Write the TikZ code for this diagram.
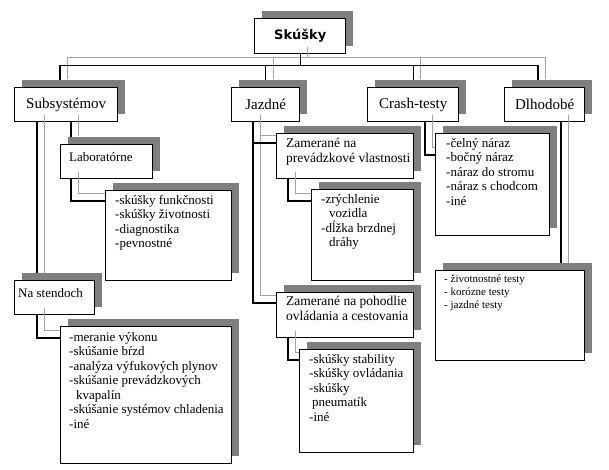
\documentclass[tikz,border=0pt]{standalone}
\usepackage{fontspec}
\setmainfont{Liberation Serif}
\newfontfamily\headfont{DejaVu Sans}
\usetikzlibrary{shadows}
\definecolor{boxgray}{HTML}{7F7F7F}
\definecolor{linegray}{HTML}{A3A3A3}
\pgfdeclarelayer{lev0}
\pgfdeclarelayer{con0}
\pgfdeclarelayer{lev1}
\pgfdeclarelayer{con1}
\pgfdeclarelayer{lev2}
\pgfdeclarelayer{con2}
\pgfdeclarelayer{lev3}
\pgfsetlayers{lev0,con0,lev1,con1,lev2,con2,lev3,main}
\begin{document}
\begin{tikzpicture}[x=1pt,y=-1pt,
  box/.style={draw,line width=1.4pt,fill=white,inner sep=0pt,anchor=north west,
    drop shadow={shadow xshift=7.5pt,shadow yshift=7.5pt,fill=boxgray,opacity=1}},
  link/.style={line width=1.3pt},
  ghost/.style={draw=linegray,line width=1pt},
  offs/.style={shift={(7.5,-7.5)}},
  head/.style={font=\fontsize{15}{17}\selectfont},
  listtext/.style={anchor=north west,align=left,inner sep=0pt,font=\fontsize{13}{14.5}\selectfont,
    execute at begin node={\rule{0pt}{11pt}}}]
\begin{pgfonlayer}{lev0}
\fill[white] (0,0) rectangle (609,470);
\useasboundingbox (0,0) rectangle (609,470);
\node[box,minimum width=91,minimum height=35,font=\headfont\bfseries\fontsize{13}{15}\selectfont] (skusky) at (254,18) {Skúšky};
\end{pgfonlayer}
\begin{pgfonlayer}{lev1}
\node[box,head,minimum width=103,minimum height=34] (sub) at (14,87) {Subsystémov};
\node[box,head,minimum width=68,minimum height=34] (jaz) at (231,87) {Jazdné};
\node[box,head,minimum width=91,minimum height=34] (cra) at (367,87) {Crash-testy};
\node[box,head,minimum width=80,minimum height=34] (dlh) at (504,87) {Dlhodobé};
\end{pgfonlayer}
\begin{pgfonlayer}{lev2}
\node[box,minimum width=92,minimum height=34] (lab) at (60,144) {};
\node[box,minimum width=80,minimum height=34] (nas) at (14,280) {};
\node[box,minimum width=137,minimum height=45] (zam1) at (276,133) {};
\node[box,minimum width=137,minimum height=45] (zam2) at (276,292) {};
\node[box,minimum width=114,minimum height=102] (crl) at (435,133) {};
\node[box,minimum width=149,minimum height=90] (dll) at (435,270) {};
\end{pgfonlayer}
\begin{pgfonlayer}{lev3}
\node[box,minimum width=126,minimum height=90] (lst1) at (105,190) {};
\node[box,minimum width=171,minimum height=137] (lst2) at (60,326) {};
\node[box,minimum width=102,minimum height=91] (lst3) at (311,189) {};
\node[box,minimum width=114,minimum height=103] (lst4) at (299,349) {};
\end{pgfonlayer}
\begin{pgfonlayer}{con0}
\draw[ghost] ([offs]skusky.south) -- ++(0,11) -| ([offs,xshift=46]sub.north west);
\draw[ghost] ([offs]skusky.south) -- ++(0,11) -| ([offs]jaz.north);
\draw[ghost] ([offs]skusky.south) -- ++(0,11) -| ([offs]cra.north);
\draw[ghost] ([offs]skusky.south) -- ++(0,11) -| ([offs,xshift=34]dlh.north west);
\draw[link] (skusky.south) -- ++(0,11) -| ([xshift=46]sub.north west);
\draw[link] (skusky.south) -- ++(0,11) -| (jaz.north);
\draw[link] (skusky.south) -- ++(0,11) -| (cra.north);
\draw[link] (skusky.south) -- ++(0,11) -| ([xshift=34]dlh.north west);
\end{pgfonlayer}
\begin{pgfonlayer}{con1}
\draw[ghost] ([offs,xshift=23]sub.south west) -- ([offs,xshift=23]nas.north west);
\draw[ghost] ([offs,xshift=57]sub.south west) -- ([offs,xshift=11]lab.north west);
\draw[ghost] ([offs,xshift=22]jaz.south west) |- ([offs,yshift=-10]zam1.north west);
\draw[ghost] ([offs,xshift=22]jaz.south west) |- ([offs,yshift=-11]zam2.north west);
\draw[ghost] ([offs,xshift=58]cra.south west) |- ([offs,yshift=-22]crl.north west);
\draw[ghost] ([offs,xshift=57]dlh.south west) -- ([offs,xshift=126]dll.north west);
\draw[link] ([xshift=23]sub.south west) -- ([xshift=23]nas.north west);
\draw[link] ([xshift=57]sub.south west) -- ([xshift=11]lab.north west);
\draw[link] ([xshift=22]jaz.south west) |- ([yshift=-10]zam1.north west);
\draw[link] ([xshift=22]jaz.south west) |- ([yshift=-11]zam2.north west);
\draw[link] ([xshift=58]cra.south west) |- ([yshift=-22]crl.north west);
\draw[link] ([xshift=57]dlh.south west) -- ([xshift=126]dll.north west);
\end{pgfonlayer}
\begin{pgfonlayer}{con2}
\draw[ghost] ([offs,xshift=11]lab.south west) |- ([offs,yshift=-11]lst1.north west);
\draw[ghost] ([offs,xshift=23]nas.south west) |- ([offs,yshift=-12]lst2.north west);
\draw[ghost] ([offs,xshift=12]zam1.south west) |- ([offs,yshift=-12]lst3.north west);
\draw[ghost] ([offs,xshift=12]zam2.south west) |- ([offs,yshift=-11]lst4.north west);
\draw[link] ([xshift=11]lab.south west) |- ([yshift=-11]lst1.north west);
\draw[link] ([xshift=23]nas.south west) |- ([yshift=-12]lst2.north west);
\draw[link] ([xshift=12]zam1.south west) |- ([yshift=-12]lst3.north west);
\draw[link] ([xshift=12]zam2.south west) |- ([yshift=-11]lst4.north west);
\end{pgfonlayer}
\node[listtext] (lab-t) at ([shift={(9,6)}]lab.north west) {Laboratórne};
\node[listtext] (nas-t) at ([shift={(4,6)}]nas.north west) {Na stendoch};
\node[listtext,font=\fontsize{13.5}{15}\selectfont] (zam1-t) at ([shift={(10,5)}]zam1.north west) {Zamerané na\\prevádzkové vlastnosti};
\node[listtext,font=\fontsize{13.5}{15}\selectfont] (zam2-t) at ([shift={(10,4)}]zam2.north west) {Zamerané na pohodlie\\ovládania a cestovania};
\node[listtext] (crl-t) at ([shift={(11,5)}]crl.north west) {-čelný náraz\\-bočný náraz\\-náraz do stromu\\-náraz s chodcom\\-iné};
\node[listtext,font=\fontsize{11}{13}\selectfont] (dll-t) at ([shift={(9,5)}]dll.north west) {- životnostné testy\\- korózne testy\\- jazdné testy};
\node[listtext] (lst1-t) at ([shift={(10,5)}]lst1.north west) {-skúšky funkčnosti\\-skúšky životnosti\\-diagnostika\\-pevnostné};
\node[listtext] (lst2-t) at ([shift={(9,6)}]lst2.north west) {-meranie výkonu\\-skúšanie bŕzd\\-analýza výfukových plynov\\-skúšanie prevádzkových\\\hspace*{7pt}kvapalín\\-skúšanie systémov chladenia\\-iné};
\node[listtext] (lst3-t) at ([shift={(10,5)}]lst3.north west) {-zrýchlenie\\\hspace*{8pt}vozidla\\-dĺžka brzdnej\\\hspace*{8pt}dráhy};
\node[listtext] (lst4-t) at ([shift={(10,5)}]lst4.north west) {-skúšky stability\\-skúšky ovládania\\-skúšky\\\hspace*{3pt}pneumatík\\-iné};
\end{tikzpicture}
\end{document}
